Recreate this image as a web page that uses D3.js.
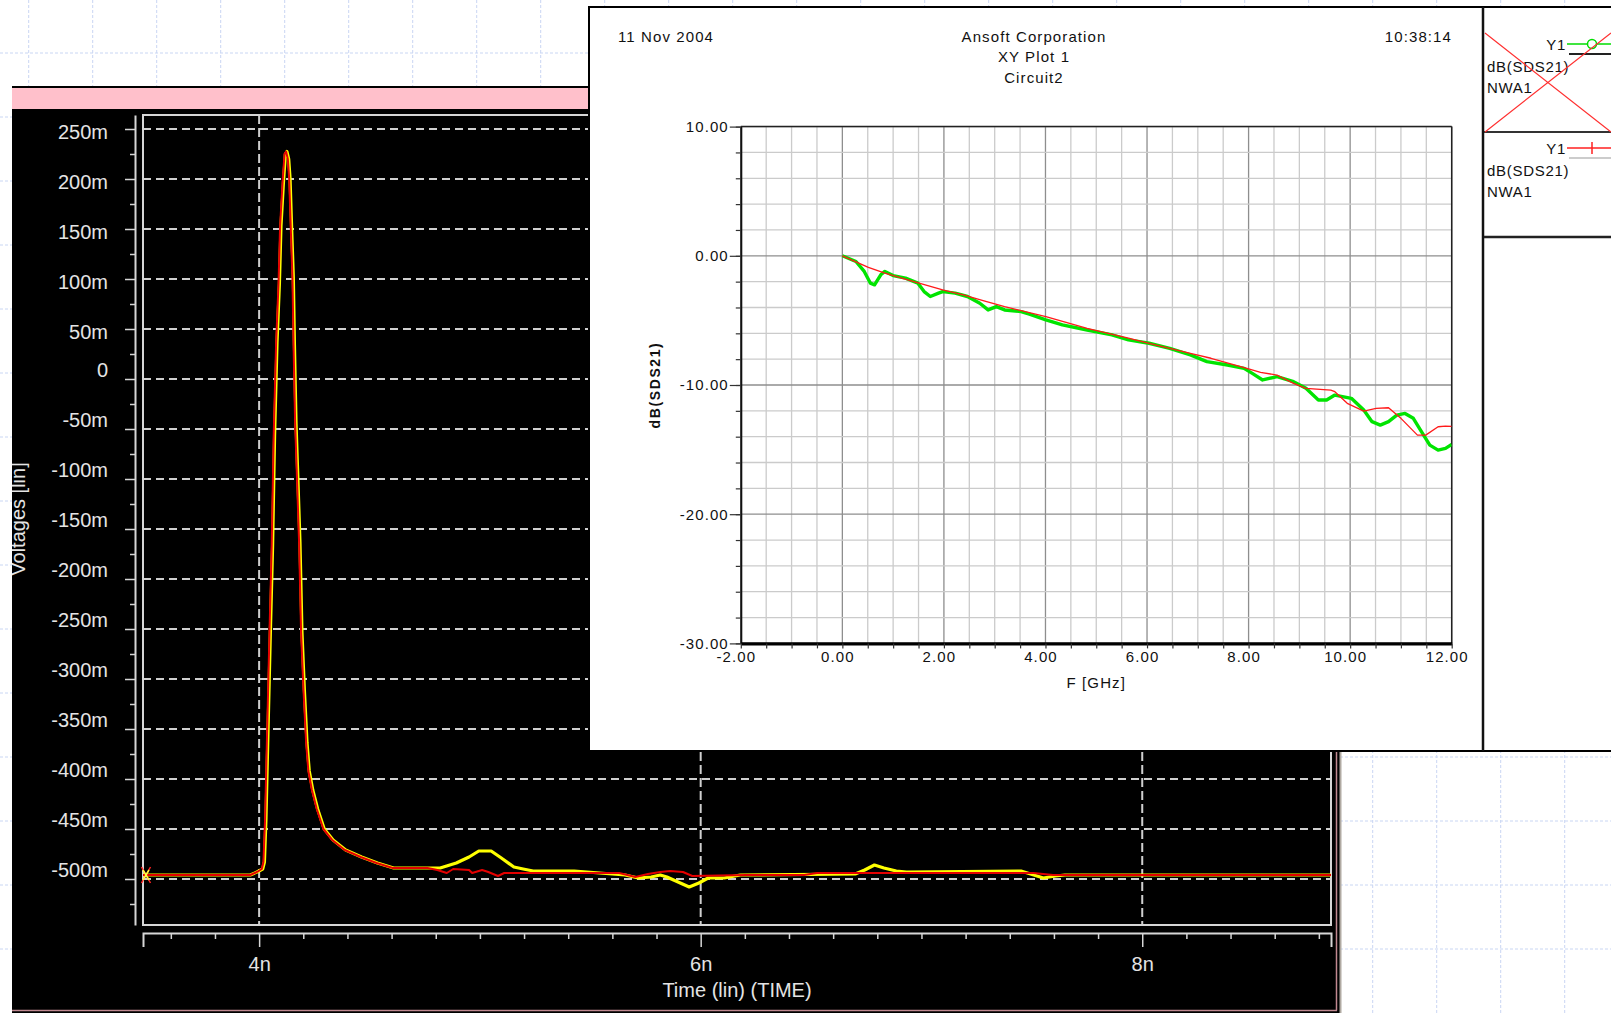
<!DOCTYPE html>
<html>
<head>
<meta charset="utf-8">
<script src="https://cdn.jsdelivr.net/npm/d3@7"></script>
<style>
  html, body { margin: 0; padding: 0; background: #fff; overflow: hidden; }
  svg { display: block; }
</style>
</head>
<body>
<script>
// ---------- transient window: probe voltages vs time ----------
const timeTickValues = [4, 6, 8];
const timeTickLabels = ["4n", "6n", "8n"];
const voltTickValues = [0.25, 0.2, 0.15, 0.1, 0.05, 0, -0.05, -0.1, -0.15, -0.2, -0.25, -0.3, -0.35, -0.4, -0.45, -0.5];
const voltTickLabels = ["250m", "200m", "150m", "100m", "50m", "0", "-50m", "-100m", "-150m", "-200m", "-250m", "-300m", "-350m", "-400m", "-450m", "-500m"];

// [time in ns, volts]
const probeRed = [
  [3.474, -0.496], [3.96, -0.496], [3.99, -0.493], [4.012, -0.490], [4.0196, -0.483], [4.027, -0.440],
  [4.035, -0.364], [4.047, -0.253], [4.057, -0.167], [4.066, -0.057], [4.077, 0.036], [4.088, 0.096],
  [4.095, 0.153], [4.106, 0.196], [4.115, 0.225], [4.122, 0.2275], [4.130, 0.220], [4.136, 0.201],
  [4.143, 0.153], [4.151, 0.101], [4.156, 0.034], [4.163, -0.043], [4.171, -0.096], [4.181, -0.163],
  [4.190, -0.253], [4.201, -0.311], [4.213, -0.364], [4.223, -0.392], [4.239, -0.411], [4.261, -0.430],
  [4.291, -0.450], [4.331, -0.461], [4.388, -0.471], [4.460, -0.478], [4.532, -0.484], [4.605, -0.489],
  [4.763, -0.489], [4.807, -0.491], [4.850, -0.494], [4.879, -0.490], [4.951, -0.491], [4.965, -0.494],
  [5.010, -0.491], [5.038, -0.493], [5.082, -0.497], [5.110, -0.494], [5.631, -0.494], [5.704, -0.498],
  [5.761, -0.495], [5.817, -0.493], [5.862, -0.492], [5.920, -0.493], [5.962, -0.497], [6.207, -0.496],
  [6.469, -0.496], [6.527, -0.494], [7.507, -0.494], [7.596, -0.496], [8.855, -0.496]
];
const probeYellow = [
  [3.474, -0.496], [3.96, -0.496], [3.99, -0.493], [4.016, -0.490], [4.024, -0.483], [4.031, -0.440],
  [4.039, -0.364], [4.051, -0.253], [4.061, -0.167], [4.070, -0.057], [4.081, 0.036], [4.092, 0.096],
  [4.099, 0.153], [4.110, 0.196], [4.119, 0.225], [4.126, 0.2275], [4.134, 0.220], [4.140, 0.201],
  [4.147, 0.153], [4.155, 0.101], [4.160, 0.034], [4.167, -0.043], [4.175, -0.096], [4.185, -0.163],
  [4.194, -0.253], [4.205, -0.311], [4.217, -0.364], [4.227, -0.392], [4.243, -0.411], [4.265, -0.430],
  [4.295, -0.450], [4.335, -0.461], [4.392, -0.471], [4.464, -0.478], [4.536, -0.484], [4.609, -0.489],
  [4.763, -0.489], [4.820, -0.489], [4.893, -0.484], [4.951, -0.478], [4.995, -0.472], [5.051, -0.472],
  [5.097, -0.479], [5.154, -0.488], [5.196, -0.490], [5.241, -0.492], [5.427, -0.492], [5.658, -0.496],
  [5.717, -0.499], [5.776, -0.498], [5.817, -0.496], [5.847, -0.498], [5.948, -0.508], [5.992, -0.504],
  [6.034, -0.499], [6.107, -0.499], [6.179, -0.496], [6.700, -0.495], [6.743, -0.491], [6.787, -0.486],
  [6.830, -0.489], [6.886, -0.492], [6.932, -0.493], [7.451, -0.492], [7.552, -0.499], [7.607, -0.497],
  [7.650, -0.496], [8.855, -0.496]
];

// ---------- XY Plot 1: dB(SDS21) vs frequency ----------
const freqTickValues = [-2, 0, 2, 4, 6, 8, 10, 12];
const freqTickLabels = ["-2.00", "0.00", "2.00", "4.00", "6.00", "8.00", "10.00", "12.00"];
const dbTickValues = [10, 0, -10, -20, -30];
const dbTickLabels = ["10.00", "0.00", "-10.00", "-20.00", "-30.00"];

// [GHz, dB]
const sds21Measured = [
  [0, 0], [0.268, -0.44], [0.431, -1.21], [0.553, -2.12], [0.634, -2.25], [0.756, -1.47], [0.837, -1.21],
  [1.0, -1.53], [1.244, -1.73], [1.488, -2.12], [1.610, -2.77], [1.732, -3.15], [1.894, -2.89],
  [1.976, -2.77], [2.220, -2.89], [2.463, -3.15], [2.707, -3.67], [2.870, -4.19], [3.033, -3.93],
  [3.195, -4.19], [3.520, -4.32], [3.683, -4.52], [4.008, -4.96], [4.333, -5.35], [4.821, -5.74],
  [5.309, -6.12], [5.634, -6.51], [6.041, -6.77], [6.447, -7.16], [6.854, -7.67], [7.179, -8.19],
  [7.585, -8.45], [7.911, -8.71], [8.073, -9.10], [8.276, -9.61], [8.561, -9.35], [8.886, -9.74],
  [9.130, -10.26], [9.374, -11.16], [9.537, -11.16], [9.699, -10.78], [10.024, -11.03], [10.268, -11.94],
  [10.431, -12.84], [10.593, -13.10], [10.756, -12.84], [10.919, -12.33], [11.081, -12.20], [11.244, -12.58],
  [11.407, -13.62], [11.569, -14.65], [11.732, -15.04], [11.878, -14.91], [12.0, -14.6]
];
const sds21Model = [
  [0, 0], [0.512, -0.90], [0.837, -1.34], [1.407, -1.99], [1.976, -2.64], [2.382, -3.02], [2.789, -3.49],
  [3.195, -3.93], [4.008, -4.70], [4.821, -5.61], [5.634, -6.38], [6.041, -6.77], [6.854, -7.55],
  [7.260, -7.93], [7.967, -8.71], [8.236, -9.02], [8.561, -9.23], [8.886, -9.87], [9.130, -10.26],
  [9.618, -10.39], [9.699, -10.52], [9.943, -11.42], [10.268, -12.02], [10.512, -11.81], [10.756, -11.76],
  [11.0, -12.58], [11.325, -13.88], [11.488, -13.88], [11.732, -13.23], [11.878, -13.18], [12.0, -13.2]
];

const headerDate = "11 Nov 2004";
const headerTime = "10:38:14";
const headerTitle = ["Ansoft Corporation", "XY Plot 1", "Circuit2"];
const legendNames = ["Y1", "Y1"];
const legendExprs = ["dB(SDS21)", "dB(SDS21)"];
const legendSources = ["NWA1", "NWA1"];

// ======================================================================
const W = 1611, H = 1013;
const svg = d3.select("body").append("svg").attr("width", W).attr("height", H);

// desktop backdrop grid
const bg = svg.append("g").attr("stroke", "#c9d6f3").attr("stroke-width", 1).attr("stroke-dasharray", "3,2");
d3.range(28.7, W, 64).forEach(x => bg.append("line").attr("x1", x).attr("x2", x).attr("y1", 0).attr("y2", H));
d3.range(53, H, 64).forEach(y => bg.append("line").attr("x1", 0).attr("x2", W).attr("y1", y).attr("y2", y));

// ---------------- transient window ----------------
const T = svg.append("g");
T.append("rect").attr("x", 12).attr("y", 86).attr("width", 1329).attr("height", 927).attr("fill", "#000");
T.append("rect").attr("x", 12).attr("y", 88).attr("width", 1325).attr("height", 21).attr("fill", "#ffc0cb");
T.append("line").attr("x1", 1336.5).attr("x2", 1336.5).attr("y1", 110).attr("y2", 1010.5).attr("stroke", "#c08890").attr("stroke-width", 1.5);
T.append("line").attr("x1", 12).attr("x2", 1337).attr("y1", 1010.5).attr("y2", 1010.5).attr("stroke", "#c08890").attr("stroke-width", 1.5);
T.append("line").attr("x1", 1340.5).attr("x2", 1340.5).attr("y1", 86).attr("y2", H).attr("stroke", "#b0aaa2").attr("stroke-width", 2);

const xL = d3.scaleLinear().domain([3.474, 8.855]).range([143, 1331]);
const yL = d3.scaleLinear().domain([-0.546, 0.264]).range([925, 115]);
const axisGrey = "#d6d6d6";
const textGrey = "#e4e4e4";
const fontL = "'Liberation Sans', Arial, sans-serif";

// dashed grid
const gridL = T.append("g").attr("stroke", "#cfcfcf").attr("stroke-width", 2);
gridL.selectAll("line.h").data(voltTickValues).join("line").attr("class", "h")
  .attr("x1", xL.range()[0]).attr("x2", xL.range()[1])
  .attr("y1", d => yL(d)).attr("y2", d => yL(d)).attr("stroke-dasharray", "8,5");
gridL.selectAll("line.v").data(timeTickValues).join("line").attr("class", "v")
  .attr("x1", d => xL(d)).attr("x2", d => xL(d))
  .attr("y1", yL.range()[1]).attr("y2", yL.range()[0]).attr("stroke-dasharray", "9,4");

// plot frame
T.append("rect").attr("x", 143).attr("y", 115).attr("width", 1188).attr("height", 810)
  .attr("fill", "none").attr("stroke", axisGrey).attr("stroke-width", 2);

// traces
T.append("clipPath").attr("id", "clipL").append("rect").attr("x", 143).attr("y", 115).attr("width", 1188).attr("height", 810);
const lineL = d3.line().x(d => xL(d[0])).y(d => yL(d[1]));
const traces = T.append("g").attr("clip-path", "url(#clipL)").attr("fill", "none").attr("stroke-linejoin", "round");
traces.append("path").datum(probeYellow).attr("d", lineL).attr("stroke", "#ffff00").attr("stroke-width", 3.2);
traces.append("path").datum(probeRed).attr("d", lineL).attr("stroke", "#e40000").attr("stroke-width", 2);

// start markers
function xMark(g, p, color, w, h, sw) {
  const cx = xL(p[0]) + 3, cy = yL(p[1]);
  g.append("path").attr("d", `M${cx - w},${cy - h}L${cx + w},${cy + h}M${cx - w},${cy + h}L${cx + w},${cy - h}`)
    .attr("stroke", color).attr("stroke-width", sw).attr("fill", "none");
}
xMark(T, probeRed[0], "#ff2020", 4.5, 8, 1.5);
xMark(T, probeYellow[0], "#ffff40", 3, 5, 1.5);

// y axis
const yAxisG = T.append("g").attr("transform", "translate(135,0)")
  .call(d3.axisLeft(yL).tickValues(voltTickValues).tickFormat((d, i) => voltTickLabels[i]).tickSize(10).tickSizeOuter(0).tickPadding(17));
yAxisG.select(".domain").attr("stroke", axisGrey).attr("stroke-width", 2);
yAxisG.selectAll(".tick line").attr("stroke", axisGrey).attr("stroke-width", 1.5);
yAxisG.selectAll(".tick text").attr("fill", textGrey).attr("font-family", fontL).attr("font-size", 20)
  .attr("dy", d => (d > 0 ? 9.5 : -2.5) + "px");
const yMinorG = T.append("g").attr("transform", "translate(135,0)")
  .call(d3.axisLeft(yL).tickValues(d3.range(-0.525, 0.26, 0.05)).tickFormat("").tickSize(5));
yMinorG.select(".domain").remove();
yMinorG.selectAll(".tick line").attr("stroke", axisGrey).attr("stroke-width", 1.5);

// x axis
const xAxisG = T.append("g").attr("transform", "translate(0,933)")
  .call(d3.axisBottom(xL).tickValues(timeTickValues).tickFormat((d, i) => timeTickLabels[i]).tickSize(14).tickSizeOuter(14).tickPadding(10));
xAxisG.select(".domain").attr("stroke", axisGrey).attr("stroke-width", 2).attr("fill", "none");
xAxisG.selectAll(".tick line").attr("stroke", axisGrey).attr("stroke-width", 1.5);
xAxisG.selectAll(".tick text").attr("fill", textGrey).attr("font-family", fontL).attr("font-size", 20);
const xMinorG = T.append("g").attr("transform", "translate(0,933)")
  .call(d3.axisBottom(xL).tickValues(d3.range(3.6, 8.85, 0.2).filter(v => Math.abs(v - Math.round(v / 2) * 2) > 0.05)).tickFormat("").tickSize(6));
xMinorG.select(".domain").remove();
xMinorG.selectAll(".tick line").attr("stroke", axisGrey).attr("stroke-width", 1.5);

T.append("text").attr("x", 737).attr("y", 997).attr("text-anchor", "middle")
  .attr("fill", textGrey).attr("font-family", fontL).attr("font-size", 20).text("Time (lin) (TIME)");
// y title sits partly outside the window's left edge, so clip it there
T.append("clipPath").attr("id", "clipYT").append("rect").attr("x", 12).attr("y", 110).attr("width", 100).attr("height", 900);
T.append("g").attr("clip-path", "url(#clipYT)")
  .append("text").attr("transform", "translate(25,519) rotate(-90)").attr("text-anchor", "middle")
  .attr("fill", textGrey).attr("font-family", fontL).attr("font-size", 20).text("Voltages [lin]");

// ---------------- XY plot window ----------------
const A = svg.append("g");
const fontA = "'Liberation Sans', Arial, sans-serif";
A.append("rect").attr("x", 589).attr("y", 7).attr("width", 1040).attr("height", 744)
  .attr("fill", "#fff").attr("stroke", "#000").attr("stroke-width", 2);
A.append("line").attr("x1", 1483).attr("x2", 1483).attr("y1", 7).attr("y2", 751).attr("stroke", "#111").attr("stroke-width", 2.5);

const hdr = A.append("g").attr("font-family", fontA).attr("font-size", 15).attr("letter-spacing", "1.1px").attr("fill", "#111");
hdr.append("text").attr("x", 618).attr("y", 41.5).text(headerDate);
hdr.append("text").attr("x", 1452).attr("y", 41.5).attr("text-anchor", "end").text(headerTime);
hdr.selectAll("text.title").data(headerTitle).join("text").attr("class", "title")
  .attr("x", 1034).attr("y", (d, i) => 41.5 + i * 20.5).attr("text-anchor", "middle").text(d => d);

const xR = d3.scaleLinear().domain([-2, 12]).range([740.8, 1451.7]);
const yR = d3.scaleLinear().domain([-30, 10]).range([643.4, 126.6]);

// grid
const minorF = d3.range(-2, 12.001, 0.5);
const minorDb = d3.range(-30, 10.001, 2);
const gridA = A.append("g");
gridA.selectAll("line.v").data(minorF).join("line").attr("class", "v")
  .attr("x1", d => xR(d)).attr("x2", d => xR(d)).attr("y1", yR(10)).attr("y2", yR(-30))
  .attr("stroke", d => (Math.abs(d % 2) < 1e-6 ? "#8e8e8e" : "#cbcbcb")).attr("stroke-width", 1.3);
gridA.selectAll("line.h").data(minorDb).join("line").attr("class", "h")
  .attr("x1", xR(-2)).attr("x2", xR(12)).attr("y1", d => yR(d)).attr("y2", d => yR(d))
  .attr("stroke", d => (Math.abs(d % 10) < 1e-6 ? "#8e8e8e" : "#cbcbcb")).attr("stroke-width", 1.3);

// frame
A.append("line").attr("x1", xR(-2)).attr("x2", xR(12)).attr("y1", yR(10)).attr("y2", yR(10)).attr("stroke", "#222").attr("stroke-width", 1.5);
A.append("line").attr("x1", xR(12)).attr("x2", xR(12)).attr("y1", yR(10)).attr("y2", yR(-30)).attr("stroke", "#222").attr("stroke-width", 1.5);

// curves
A.append("clipPath").attr("id", "clipA").append("rect")
  .attr("x", xR(-2)).attr("y", yR(10)).attr("width", xR(12) - xR(-2)).attr("height", yR(-30) - yR(10));
const lineA = d3.line().x(d => xR(d[0])).y(d => yR(d[1]));
const curves = A.append("g").attr("clip-path", "url(#clipA)").attr("fill", "none").attr("stroke-linejoin", "round");
curves.append("path").datum(sds21Measured).attr("d", lineA).attr("stroke", "#00e400").attr("stroke-width", 3.4);
curves.append("path").datum(sds21Model).attr("d", lineA).attr("stroke", "#ff1a1a").attr("stroke-width", 1.3);

// axes
const yAG = A.append("g").attr("transform", `translate(${xR(-2)},0)`)
  .call(d3.axisLeft(yR).tickValues(dbTickValues).tickFormat((d, i) => dbTickLabels[i]).tickSize(11).tickSizeOuter(0).tickPadding(1));
yAG.select(".domain").attr("stroke", "#111").attr("stroke-width", 2);
yAG.selectAll(".tick line").attr("stroke", "#333").attr("stroke-width", 1.2);
yAG.selectAll(".tick text").attr("fill", "#111").attr("font-family", fontA).attr("font-size", 15).attr("letter-spacing", "1.1px");
const yAMinor = A.append("g").attr("transform", `translate(${xR(-2)},0)`)
  .call(d3.axisLeft(yR).tickValues(minorDb).tickFormat("").tickSize(5));
yAMinor.select(".domain").remove();
yAMinor.selectAll(".tick line").attr("stroke", "#333").attr("stroke-width", 1.2);

const xAG = A.append("g").attr("transform", `translate(0,${yR(-30)})`)
  .call(d3.axisBottom(xR).tickValues(minorF)
    .tickFormat(d => { const i = freqTickValues.findIndex(v => Math.abs(v - d) < 1e-6); return i >= 0 ? freqTickLabels[i] : ""; })
    .tickSize(5).tickSizeOuter(0).tickPadding(3));
xAG.select(".domain").attr("stroke", "#000").attr("stroke-width", 3.2);
xAG.selectAll(".tick line").attr("stroke", "#333").attr("stroke-width", 1.2);
xAG.selectAll(".tick text").attr("fill", "#111").attr("font-family", fontA).attr("font-size", 15)
  .attr("letter-spacing", "1.1px").attr("dx", "-5px");

A.append("text").attr("x", (xR(-2) + xR(12)) / 2).attr("y", 688).attr("text-anchor", "middle")
  .attr("font-family", fontA).attr("font-size", 15).attr("letter-spacing", "1.1px").attr("fill", "#111").text("F [GHz]");
A.append("text").attr("transform", `translate(660,${(yR(10) + yR(-30)) / 2}) rotate(-90)`).attr("text-anchor", "middle")
  .attr("font-family", fontA).attr("font-size", 14).attr("font-weight", "bold").attr("letter-spacing", "1.6px")
  .attr("fill", "#111").text("dB(SDS21)");

// legend
const leg = A.append("g").attr("font-family", fontA).attr("font-size", 15).attr("letter-spacing", "0.7px").attr("fill", "#111");
const cellTop = [7, 132];
leg.append("line").attr("x1", 1484).attr("x2", W).attr("y1", 132).attr("y2", 132).attr("stroke", "#333").attr("stroke-width", 2);
leg.append("line").attr("x1", 1484).attr("x2", W).attr("y1", 237).attr("y2", 237).attr("stroke", "#222").attr("stroke-width", 2.5);
legendNames.forEach((n, i) => {
  const top = cellTop[i];
  const ly = top + (i === 0 ? 37 : 16);
  leg.append("text").attr("x", 1566).attr("y", ly + 5.5).attr("text-anchor", "end").text(n);
  leg.append("text").attr("x", 1487).attr("y", ly + 28).text(legendExprs[i]);
  leg.append("text").attr("x", 1487).attr("y", ly + 49).text(legendSources[i]);
});
// entry 1: green with circle marker (hidden trace)
leg.append("line").attr("x1", 1567).attr("x2", W).attr("y1", 44).attr("y2", 44).attr("stroke", "#00dd00").attr("stroke-width", 1.5);
leg.append("circle").attr("cx", 1592).attr("cy", 44).attr("r", 4.5).attr("fill", "#fff").attr("stroke", "#00dd00").attr("stroke-width", 1.5);
leg.append("line").attr("x1", 1569).attr("x2", W).attr("y1", 54).attr("y2", 54).attr("stroke", "#222").attr("stroke-width", 2);
leg.append("path").attr("d", "M1485,33L1611,132M1485,132L1611,33").attr("stroke", "#ff3030").attr("stroke-width", 1.2).attr("fill", "none");
// entry 2: red with tick marker
leg.append("line").attr("x1", 1567).attr("x2", W).attr("y1", 148).attr("y2", 148).attr("stroke", "#ff2020").attr("stroke-width", 1.5);
leg.append("line").attr("x1", 1592).attr("x2", 1592).attr("y1", 142).attr("y2", 154).attr("stroke", "#ff2020").attr("stroke-width", 1.5);
leg.append("line").attr("x1", 1569).attr("x2", W).attr("y1", 158).attr("y2", 158).attr("stroke", "#999").attr("stroke-width", 1.2);
</script>
</body>
</html>
